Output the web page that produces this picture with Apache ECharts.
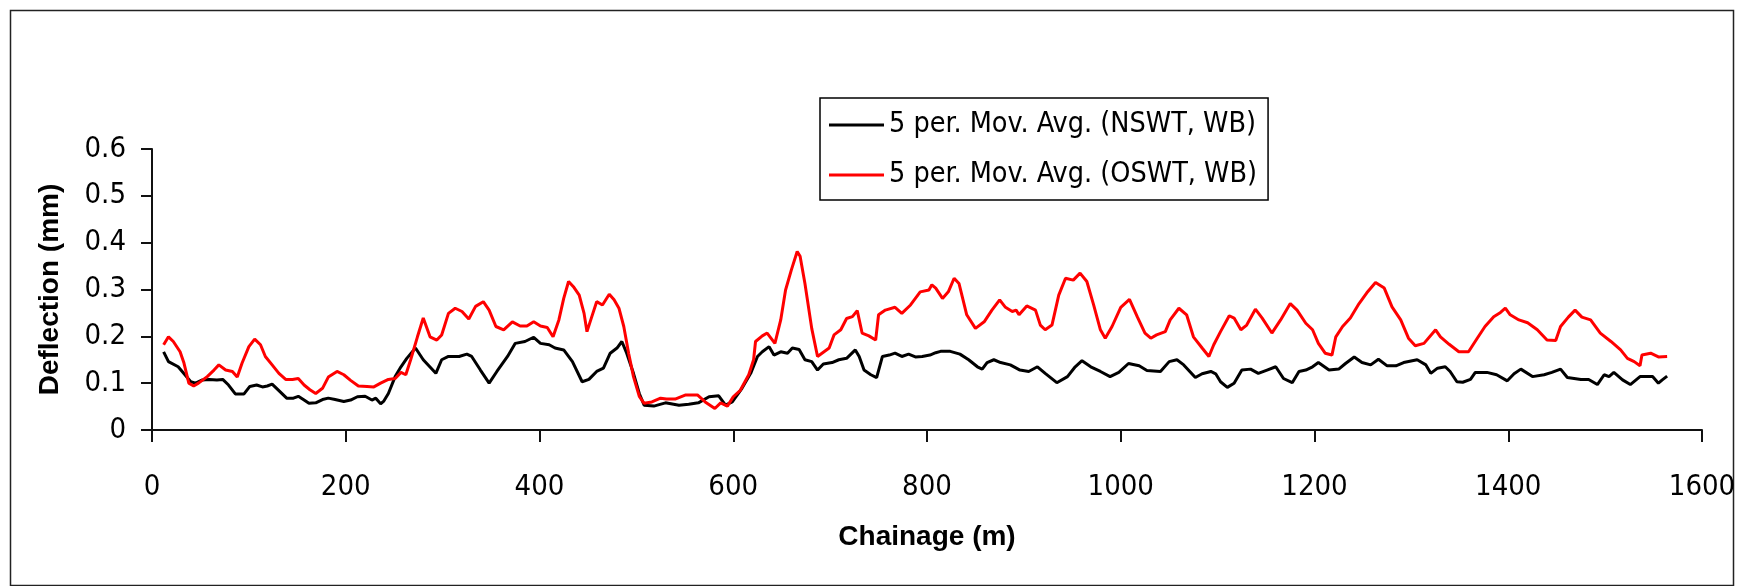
<!DOCTYPE html>
<html>
<head>
<meta charset="utf-8">
<script src="https://cdn.jsdelivr.net/npm/echarts@6/dist/echarts.min.js"></script>
<style>
html,body{margin:0;padding:0;background:#fff;}
#chart{width:1744px;height:586px;}
</style>
</head>
<body>
<div id="chart"></div>
<script>
// Chainage (m) and deflection (mm)
const nswtX = [12,17,27,34,40,45,52,59,67,73,79,86,95,101,108,114,119,124,131,139,146,151,157,162,169,176,182,189,198,205,212,220,227,231,236,239,244,251,257,263,272,280,293,299,306,317,325,330,339,348,356,367,375,385,394,401,410,416,425,434,444,451,459,466,473,480,485,490,497,503,508,518,530,544,554,564,575,585,592,599,609,618,625,630,637,642,649,656,661,668,674,681,687,693,702,709,717,726,730,735,742,748,754,761,767,774,781,788,795,803,809,814,824,834,843,852,857,862,869,876,886,896,905,914,922,934,945,953,960,969,979,989,998,1008,1019,1027,1041,1050,1058,1065,1077,1084,1093,1098,1103,1110,1117,1125,1134,1142,1151,1160,1168,1177,1184,1191,1198,1204,1215,1225,1232,1241,1249,1258,1266,1275,1284,1292,1306,1315,1320,1327,1335,1340,1347,1353,1361,1366,1378,1388,1399,1406,1413,1425,1437,1445,1454,1461,1475,1483,1492,1499,1504,1509,1518,1526,1536,1549,1555,1559,1564];
const nswtY = [0.167,0.146,0.135,0.118,0.103,0.100,0.107,0.108,0.107,0.108,0.096,0.077,0.077,0.093,0.096,0.092,0.094,0.098,0.084,0.068,0.068,0.072,0.064,0.057,0.058,0.065,0.068,0.065,0.061,0.064,0.071,0.072,0.064,0.068,0.056,0.061,0.078,0.114,0.135,0.153,0.175,0.150,0.121,0.150,0.157,0.157,0.162,0.157,0.128,0.100,0.125,0.157,0.185,0.189,0.198,0.185,0.182,0.175,0.171,0.146,0.103,0.108,0.125,0.132,0.164,0.175,0.189,0.164,0.121,0.078,0.053,0.051,0.058,0.053,0.055,0.058,0.071,0.073,0.053,0.060,0.089,0.121,0.157,0.167,0.178,0.160,0.167,0.164,0.175,0.172,0.150,0.146,0.128,0.141,0.144,0.150,0.153,0.171,0.157,0.128,0.118,0.112,0.157,0.160,0.164,0.157,0.162,0.156,0.157,0.160,0.165,0.168,0.168,0.162,0.150,0.135,0.130,0.144,0.150,0.144,0.139,0.128,0.125,0.135,0.121,0.101,0.114,0.135,0.148,0.135,0.125,0.114,0.123,0.142,0.137,0.127,0.125,0.146,0.150,0.139,0.112,0.120,0.125,0.120,0.103,0.091,0.100,0.128,0.130,0.121,0.128,0.135,0.110,0.101,0.125,0.128,0.135,0.144,0.128,0.130,0.142,0.156,0.144,0.139,0.151,0.137,0.137,0.144,0.150,0.139,0.121,0.132,0.135,0.125,0.103,0.102,0.108,0.123,0.123,0.118,0.105,0.120,0.130,0.114,0.118,0.123,0.130,0.112,0.108,0.108,0.097,0.118,0.114,0.123,0.107,0.097,0.114,0.114,0.100,0.107,0.115];

const oswtX = [12,17,22,29,33,38,43,48,57,64,69,76,83,88,93,100,106,112,117,124,131,138,145,151,157,163,169,176,182,191,198,205,213,222,229,236,244,251,257,262,267,274,280,287,294,299,306,313,320,327,334,342,348,355,363,372,380,387,394,401,408,414,420,425,430,435,441,446,449,454,459,465,472,477,482,487,492,497,503,508,516,525,531,540,551,563,571,581,587,594,600,607,616,621,623,630,635,643,649,654,660,666,669,674,681,687,693,699,704,711,717,723,728,733,740,747,750,757,767,774,783,793,802,805,809,816,822,828,833,836,841,850,859,867,875,881,888,892,895,903,912,917,922,929,936,943,951,958,965,972,979,984,991,1000,1009,1017,1025,1031,1037,1046,1051,1060,1068,1075,1084,1091,1096,1103,1112,1117,1124,1130,1139,1146,1156,1165,1175,1182,1191,1198,1204,1211,1218,1222,1229,1237,1246,1254,1263,1272,1280,1289,1297,1304,1313,1325,1330,1339,1349,1359,1368,1376,1385,1392,1397,1402,1411,1420,1430,1440,1449,1454,1462,1469,1476,1485,1495,1506,1516,1523,1530,1536,1538,1547,1555,1564];
const oswtY = [0.182,0.199,0.189,0.167,0.143,0.100,0.094,0.100,0.114,0.128,0.139,0.128,0.125,0.113,0.143,0.178,0.194,0.182,0.157,0.139,0.121,0.108,0.108,0.110,0.096,0.086,0.078,0.089,0.113,0.125,0.118,0.106,0.094,0.093,0.092,0.100,0.108,0.110,0.123,0.118,0.150,0.199,0.239,0.199,0.192,0.203,0.249,0.260,0.253,0.237,0.264,0.274,0.256,0.221,0.214,0.231,0.222,0.222,0.231,0.222,0.219,0.199,0.235,0.281,0.317,0.306,0.288,0.249,0.210,0.242,0.274,0.267,0.290,0.278,0.260,0.221,0.164,0.114,0.072,0.057,0.060,0.068,0.066,0.066,0.075,0.075,0.060,0.046,0.058,0.051,0.071,0.084,0.118,0.150,0.189,0.201,0.207,0.185,0.235,0.299,0.342,0.381,0.371,0.313,0.217,0.157,0.166,0.175,0.203,0.214,0.238,0.242,0.255,0.207,0.201,0.192,0.246,0.256,0.262,0.249,0.267,0.295,0.299,0.310,0.303,0.281,0.295,0.324,0.313,0.288,0.246,0.217,0.231,0.256,0.278,0.262,0.253,0.256,0.246,0.265,0.256,0.224,0.214,0.224,0.288,0.324,0.320,0.335,0.317,0.267,0.214,0.196,0.221,0.262,0.279,0.242,0.207,0.196,0.203,0.210,0.235,0.260,0.246,0.199,0.175,0.157,0.182,0.210,0.244,0.239,0.214,0.224,0.258,0.239,0.207,0.235,0.270,0.256,0.228,0.214,0.185,0.164,0.160,0.199,0.221,0.239,0.270,0.293,0.315,0.303,0.263,0.235,0.196,0.180,0.185,0.214,0.199,0.183,0.167,0.167,0.196,0.221,0.242,0.251,0.260,0.246,0.235,0.229,0.214,0.192,0.191,0.221,0.241,0.256,0.241,0.235,0.207,0.189,0.171,0.153,0.146,0.137,0.160,0.164,0.156,0.157];

const seriesNames = ['5 per. Mov. Avg. (NSWT, WB)', '5 per. Mov. Avg. (OSWT, WB)'];
const xTitle = 'Chainage (m)';
const yTitle = 'Deflection (mm)';

const nswtData = nswtX.map((x, i) => [x, nswtY[i]]);
const oswtData = oswtX.map((x, i) => [x, oswtY[i]]);

const chart = echarts.init(document.getElementById('chart'), null, {renderer: 'canvas'});
const FONT = '"Liberation Sans", Arial, sans-serif';
const NARROW = '"DejaVu Sans Condensed", "Liberation Sans", sans-serif';
const axisColor = '#111';
chart.setOption({
  animation: false,
  backgroundColor: '#fff',
  grid: {left: 152, right: 42, top: 149, bottom: 156, containLabel: false, outerBoundsMode: 'none'},
  graphic: [{
    type: 'rect', left: 8, top: 8, silent: true,
    shape: {x: 0, y: 0, width: 1723, height: 575},
    style: {fill: 'none', stroke: '#222', lineWidth: 1.5}
  }],
  legend: {
    orient: 'vertical', left: 820, top: 98,
    data: seriesNames,
    icon: 'rect', itemWidth: 55, itemHeight: 3, itemGap: 20,
    padding: [12, 11, 10, 9],
    borderColor: '#000', borderWidth: 1.5, borderRadius: 0,
    backgroundColor: '#fff',
    textStyle: {fontFamily: NARROW, fontSize: 28.5, color: '#000', lineHeight: 30}
  },
  xAxis: {
    type: 'value', min: 0, max: 1600, interval: 200,
    name: xTitle, nameLocation: 'middle', nameGap: 93,
    nameTextStyle: {fontFamily: FONT, fontSize: 28, fontWeight: 'bold', color: '#000'},
    axisLine: {show: true, lineStyle: {color: axisColor, width: 2}},
    axisTick: {show: true, length: 12, lineStyle: {color: axisColor, width: 2}},
    axisLabel: {fontFamily: NARROW, fontSize: 29, color: '#000', margin: 43,
                formatter: v => String(v)},
    splitLine: {show: false}
  },
  yAxis: {
    type: 'value', min: 0, max: 0.6, interval: 0.1,
    name: yTitle, nameLocation: 'middle', nameGap: 88, nameRotate: 90,
    nameTextStyle: {fontFamily: FONT, fontSize: 28, fontWeight: 'bold', color: '#000'},
    axisLine: {show: true, lineStyle: {color: axisColor, width: 2}},
    axisTick: {show: true, length: 11, lineStyle: {color: axisColor, width: 2}},
    axisLabel: {fontFamily: NARROW, fontSize: 29, color: '#000', margin: 26,
                formatter: v => String(Math.round(v * 10) / 10)},
    splitLine: {show: false}
  },
  series: [
    {name: seriesNames[0], type: 'line', data: nswtData, symbol: 'none', showSymbol: false,
     color: '#000000', lineStyle: {color: '#000000', width: 3}, z: 2},
    {name: seriesNames[1], type: 'line', data: oswtData, symbol: 'none', showSymbol: false,
     color: '#ff0000', lineStyle: {color: '#ff0000', width: 3}, z: 3}
  ]
});
</script>
</body>
</html>
